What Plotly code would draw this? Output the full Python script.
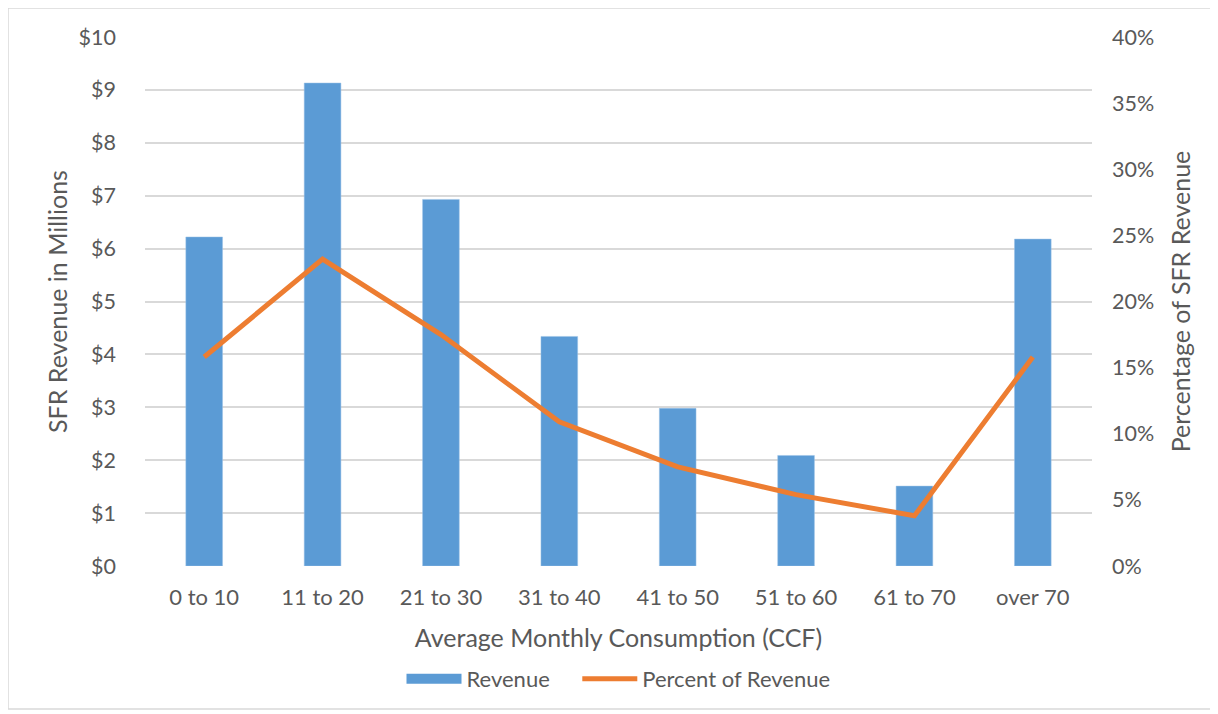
import plotly.graph_objects as go

categories = ["0 to 10", "11 to 20", "21 to 30", "31 to 40", "41 to 50", "51 to 60", "61 to 70", "over 70"]
revenue_millions = [6.22, 9.13, 6.93, 4.34, 2.98, 2.09, 1.51, 6.18]
percent_of_revenue = [0.158, 0.232, 0.175, 0.109, 0.075, 0.054, 0.038, 0.158]

FONT = "Lato"
GREY = "#595959"
BLUE = "#5B9BD5"
ORANGE = "#ED7D31"

# page body has an 8px default margin; work in reference pixel coords
OFF = 8
W, H = 1218 - OFF, 714 - OFF
L, R, T, B = 145 - OFF, 1218 - 1092, 37 - OFF, 714 - 566
pw, ph = W - L - R, H - T - B

def px_x(x):
    return (x - OFF - L) / pw

def px_y(y):
    return (H - B - (y - OFF)) / ph

fig = go.Figure()
fig.add_trace(go.Bar(
    x=categories, y=revenue_millions, name="Revenue",
    marker=dict(color=BLUE, line=dict(color="#9DC3E6", width=0.5)),
    yaxis="y", showlegend=False,
))
# legend-only swatch for the bars (wide rectangle like the original)
fig.add_trace(go.Scatter(
    x=[categories[0]], y=[None], name="Revenue" + "\u00a0" * 4, mode="lines",
    line=dict(color=BLUE, width=14), yaxis="y", hoverinfo="skip",
))
fig.add_trace(go.Scatter(
    x=categories, y=percent_of_revenue, name="Percent of Revenue",
    mode="lines", line=dict(color=ORANGE, width=5),
    yaxis="y2",
))

fig.update_layout(
    width=W, height=H,
    margin=dict(l=L, r=R, t=T, b=B, autoexpand=False),
    paper_bgcolor="white", plot_bgcolor="white",
    font=dict(family=FONT, color=GREY, size=21),
    bargap=0.69,
    showlegend=True,
    legend=dict(orientation="h", x=0.5, xanchor="center", y=px_y(679), yanchor="middle",
                font=dict(size=22, color=GREY), traceorder="normal", itemwidth=55),
    xaxis=dict(
        type="category", showgrid=False, zeroline=False, showline=False, ticks="",
        ticklabelstandoff=16,
        tickfont=dict(size=22, color=GREY),
        title=dict(text="Average Monthly Consumption (CCF)", font=dict(size=25, color=GREY), standoff=20),
    ),
    yaxis=dict(
        range=[0, 10], dtick=1, tickprefix="$", tickformat="d",
        showgrid=True, gridcolor="#D9D9D9", gridwidth=1.5, zeroline=False, showline=False, ticks="",
        ticklabelstandoff=28,
        tickfont=dict(size=21.5, color=GREY),
        title=dict(text="SFR Revenue in Millions", font=dict(size=25, color=GREY), standoff=3),
    ),
    yaxis2=dict(
        range=[0, 0.4], dtick=0.05, tickformat=".0%", overlaying="y", side="right",
        showgrid=False, zeroline=False, showline=False, ticks="",
        ticklabelstandoff=19,
        tickfont=dict(size=21.5, color=GREY),
        title=dict(text="Percentage of SFR Revenue", font=dict(size=25, color=GREY), standoff=19),
    ),
    shapes=[dict(
        type="rect", xref="paper", yref="paper",
        x0=px_x(8), x1=px_x(1213), y0=px_y(709), y1=px_y(8),
        line=dict(color="#D9D9D9", width=1.5), fillcolor="rgba(0,0,0,0)", layer="below",
    )],
)

fig.write_html("out.html")
